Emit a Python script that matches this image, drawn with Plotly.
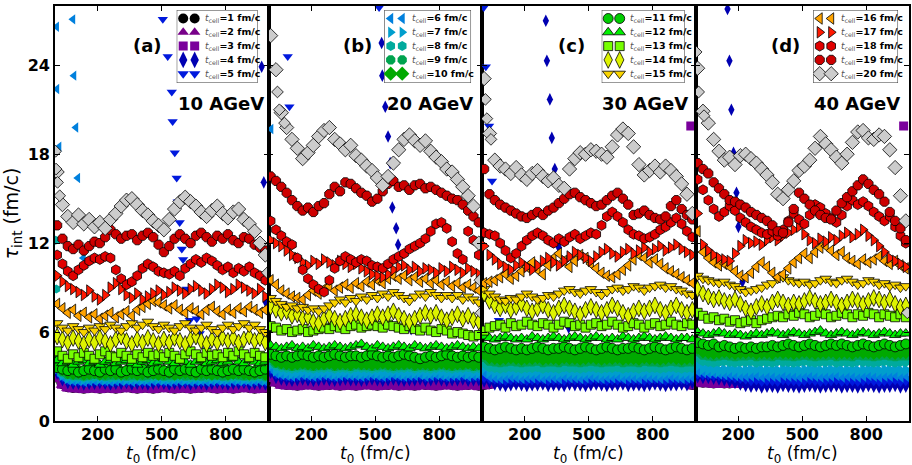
import plotly.graph_objects as go
from plotly.subplots import make_subplots

# sampling times t0 (fm/c) shared by every series
T0 = list(range(10, 1000, 25))

# ---------------- 10 AGeV ----------------
A1 = [3.0, 2.55, 2.35, 2.3, 2.3, 2.25, 2.3, 2.3, 2.25, 2.3, 2.3, 2.25, 2.3, 2.35, 2.3, 2.25, 2.3, 2.3, 2.25, 2.3,
      2.35, 2.3, 2.25, 2.3, 2.3, 2.25, 2.3, 2.3, 2.35, 2.3, 2.25, 2.3, 2.3, 2.25, 2.3, 2.35, 2.3, 2.25, 2.3, 2.3]
A2 = [2.9, 2.45, 2.25, 2.2, 2.2, 2.15, 2.2, 2.2, 2.15, 2.2, 2.2, 2.15, 2.2, 2.25, 2.2, 2.15, 2.2, 2.2, 2.15, 2.2,
      2.25, 2.2, 2.15, 2.2, 2.2, 2.15, 2.2, 2.2, 2.25, 2.2, 2.15, 2.2, 2.2, 2.15, 2.2, 2.25, 2.2, 2.15, 2.2, 2.15]
A3 = [3.0, 2.55, 2.35, 2.3, 2.3, 2.25, 2.3, 2.3, 2.25, 2.3, 2.3, 2.25, 2.3, 2.35, 2.3, 2.25, 2.3, 2.3, 2.25, 2.3,
      2.35, 2.3, 2.25, 2.3, 2.3, 2.25, 2.3, 2.3, 2.35, 2.3, 2.25, 2.3, 2.3, 2.25, 2.3, 2.35, 2.3, 2.25, 2.3, 2.3]
A4 = [3.4, 2.95, 2.75, 2.7, 2.7, 2.65, 2.7, 2.7, 2.75, 2.7, 2.65, 2.7, 2.7, 2.75, 2.65, 2.7, 2.7, 2.65, 2.7, 2.75,
      2.7, 2.65, 2.7, 2.7, 2.75, 2.65, 2.7, 2.7, 2.65, 2.7, 2.75, 2.7, 2.65, 2.7, 2.7, 2.75, 2.65, 2.7, 2.7, 2.65]
A5 = [3.45, 3.0, 2.8, 2.75, 2.75, 2.7, 2.75, 2.8, 2.75, 2.7, 2.75, 2.75, 2.8, 2.7, 2.75, 2.75, 2.7, 2.75, 2.8, 2.75,
      2.7, 2.75, 2.75, 2.8, 2.7, 2.75, 2.75, 2.7, 2.8, 2.75, 2.75, 2.7, 2.75, 2.8, 2.75, 2.7, 2.75, 2.75, 2.8, 2.7]
A6 = [3.5, 3.05, 2.85, 2.8, 2.8, 2.75, 2.8, 2.8, 2.85, 2.8, 2.75, 2.8, 2.8, 2.85, 2.75, 2.8, 2.8, 2.75, 2.8, 2.85,
      2.8, 2.75, 2.8, 2.8, 2.85, 2.75, 2.8, 2.8, 2.75, 2.8, 2.85, 2.8, 2.75, 2.8, 2.8, 2.85, 2.75, 2.8, 2.8, 2.75]
A7 = [3.6, 3.15, 2.95, 2.9, 2.9, 2.85, 2.9, 2.95, 2.9, 2.85, 2.9, 2.9, 2.95, 2.85, 2.9, 2.9, 2.85, 2.9, 2.95, 2.9,
      2.85, 2.9, 2.9, 2.95, 2.85, 2.9, 2.9, 2.85, 2.95, 2.9, 2.9, 2.85, 2.9, 2.95, 2.9, 2.85, 2.9, 2.9, 2.95, 2.85]
A8 = [3.75, 3.3, 3.1, 3.05, 3.05, 3.0, 3.05, 3.05, 3.1, 3.05, 3.0, 3.05, 3.05, 3.1, 3.0, 3.05, 3.05, 3.0, 3.05, 3.1,
      3.05, 3.0, 3.05, 3.05, 3.1, 3.0, 3.05, 3.05, 3.0, 3.05, 3.1, 3.05, 3.0, 3.05, 3.05, 3.1, 3.0, 3.05, 3.05, 3.0]
A9 = [3.85, 3.4, 3.2, 3.15, 3.15, 3.1, 3.15, 3.2, 3.15, 3.1, 3.15, 3.15, 3.2, 3.1, 3.15, 3.15, 3.1, 3.15, 3.2, 3.15,
      3.1, 3.15, 3.15, 3.2, 3.1, 3.15, 3.15, 3.1, 3.2, 3.15, 3.15, 3.1, 3.15, 3.2, 3.15, 3.1, 3.15, 3.15, 3.2, 3.1]
A10 = [4.0, 3.55, 3.35, 3.3, 3.35, 3.25, 3.3, 3.35, 3.25, 3.3, 3.35, 3.3, 3.25, 3.3, 3.35, 3.25, 3.3, 3.35, 3.3, 3.25,
       3.3, 3.35, 3.25, 3.3, 3.35, 3.3, 3.25, 3.35, 3.3, 3.25, 3.3, 3.35, 3.25, 3.3, 3.35, 3.3, 3.25, 3.3, 3.35, 3.25]
A11 = [3.6, 3.5, 3.4, 3.5, 3.3, 3.4, 3.5, 3.4, 3.3, 3.5, 3.4, 3.5, 3.3, 3.4, 3.5, 3.4, 3.5, 3.3, 3.4, 3.5,
       3.4, 3.3, 3.5, 3.4, 3.5, 3.4, 3.3, 3.5, 3.4, 3.5, 3.4, 3.3, 3.4, 3.5, 3.4, 3.5, 3.4, 3.3, 3.4, 3.5]
A12 = [4.1, 3.9, 4.0, 3.8, 4.0, 4.1, 3.9, 4.0, 3.8, 4.0, 4.1, 3.9, 4.0, 4.1, 3.9, 3.8, 4.0, 4.1, 3.9, 4.0,
       4.2, 4.0, 3.9, 4.1, 4.0, 3.8, 4.0, 4.1, 3.9, 4.0, 4.1, 3.9, 4.0, 4.2, 4.0, 3.9, 4.1, 4.0, 3.9, 4.0]
A13 = [4.7, 4.4, 4.2, 4.5, 4.3, 4.6, 4.4, 4.2, 4.5, 4.7, 4.4, 4.3, 4.6, 4.4, 4.2, 4.5, 4.3, 4.6, 4.4, 4.5,
       4.3, 4.6, 4.4, 4.2, 4.5, 4.7, 4.5, 4.3, 4.6, 4.4, 4.5, 4.3, 4.6, 4.4, 4.7, 4.5, 4.3, 4.6, 4.4, 4.3]
A14 = [5.7, 5.5, 5.3, 5.6, 5.4, 5.2, 5.5, 5.3, 5.6, 5.4, 5.2, 5.5, 5.7, 5.4, 5.2, 5.5, 5.3, 5.6, 5.4, 5.2,
       5.5, 5.3, 5.6, 5.4, 5.2, 5.5, 5.7, 5.4, 5.2, 5.5, 5.3, 5.6, 5.4, 5.6, 5.3, 5.5, 5.7, 5.4, 5.6, 5.3]
A15 = [6.6, 6.3, 6.1, 6.4, 6.2, 6.0, 6.3, 6.1, 6.4, 6.2, 6.5, 6.3, 6.1, 6.4, 6.6, 6.3, 6.5, 6.7, 6.4, 6.2,
       6.5, 6.3, 6.1, 6.4, 6.6, 6.3, 6.1, 6.3, 6.5, 6.2, 6.0, 6.3, 6.5, 6.2, 6.4, 6.6, 6.3, 6.5, 6.2, 6.0]
A16 = [7.9, 7.6, 7.3, 7.5, 7.1, 7.3, 7.0, 7.2, 6.9, 7.1, 7.3, 7.0, 7.2, 7.4, 7.1, 7.5, 7.7, 7.9, 8.1, 8.0,
       7.8, 7.6, 7.8, 7.5, 7.3, 7.6, 7.4, 7.2, 7.5, 7.7, 7.4, 7.2, 7.5, 7.3, 7.6, 7.4, 7.7, 7.5, 7.3, 7.5]
A17 = [9.8, 9.4, 9.1, 8.9, 8.7, 8.5, 8.8, 8.4, 8.2, 8.5, 9.0, 9.3, 8.9, 8.5, 8.3, 8.6, 8.2, 8.4, 8.6, 8.8,
       8.5, 8.7, 9.0, 8.8, 8.6, 8.9, 9.1, 8.8, 8.6, 8.9, 9.2, 9.0, 8.7, 8.9, 9.2, 9.0, 8.8, 8.6, 8.9, 8.4]
A18 = [11.2, 10.6, 10.1, 9.8, 10.2, 10.5, 10.8, 11.0, 10.9, 11.1, 11.0, 10.2, 9.6, 9.2, 9.4, 9.8, 10.3, 10.6, 10.4, 10.1,
       10.0, 9.9, 10.1, 9.8, 10.3, 10.6, 10.9, 10.7, 11.0, 10.8, 10.5, 10.2, 10.4, 10.0, 10.3, 10.1, 10.4, 10.0, 9.8, 9.5]
A19 = [13.2, 12.3, 11.8, 11.6, 11.9, 11.5, 11.8, 12.1, 12.0, 12.4, 12.9, 12.6, 12.3, 12.5, 12.6, 12.2, 12.5, 12.7, 12.4, 11.9,
       11.4, 11.8, 12.3, 12.6, 12.3, 12.0, 12.5, 12.7, 12.4, 12.1, 12.5, 12.3, 12.6, 12.2, 12.0, 12.4, 12.3, 11.9, 11.7, 11.5]
A20 = [16.8, 14.6, 13.8, 13.4, 13.9, 13.3, 13.6, 13.1, 13.4, 13.0, 13.6, 14.0, 14.5, 14.9, 15.0, 14.6, 14.2, 13.9, 13.5, 13.2,
       12.9, 13.6, 14.3, 14.8, 15.1, 14.8, 14.5, 14.1, 13.8, 14.2, 14.5, 14.0, 13.7, 14.1, 14.3, 13.6, 13.3, 12.8, 12.0, 11.2]
# isolated large-tau points (t0, tau)
A4_X, A4_Y = [968, 978, 988], [23.9, 16.1, 8.0]
A5_X = [505, 528, 547, 551, 561, 570, 575, 584, 594, 600, 617, 631, 664, 678, 710]
A5_Y = [27.1, 24.6, 22.2, 20.2, 18.1, 16.4, 14.8, 13.4, 11.6, 10.9, 8.9, 6.8, 6.9, 5.9, 4.8]
A6_X = [8, 9, 19, 84, 89, 98, 107, 131, 133]
A6_Y = [26.6, 22.4, 18.5, 27.1, 23.3, 19.8, 16.4, 13.4, 11.0]
A8_X, A8_Y = [3, 6], [12.2, 8.9]
A20_X, A20_Y = [3, 5, 12, 22, 994], [18.2, 17.0, 16.1, 15.2, 10.0]

# ---------------- 20 AGeV ----------------
B1 = [3.0, 2.7, 2.55, 2.5, 2.5, 2.45, 2.5, 2.55, 2.5, 2.45, 2.5, 2.5, 2.55, 2.45, 2.5, 2.5, 2.45, 2.5, 2.55, 2.5,
      2.45, 2.5, 2.5, 2.55, 2.45, 2.5, 2.5, 2.45, 2.55, 2.5, 2.5, 2.45, 2.5, 2.55, 2.5, 2.45, 2.5, 2.5, 2.55, 2.45]
B2 = [2.85, 2.55, 2.4, 2.35, 2.35, 2.3, 2.35, 2.4, 2.35, 2.3, 2.35, 2.35, 2.4, 2.3, 2.35, 2.35, 2.3, 2.35, 2.4, 2.35,
      2.3, 2.35, 2.35, 2.4, 2.3, 2.35, 2.35, 2.3, 2.4, 2.35, 2.35, 2.3, 2.35, 2.4, 2.35, 2.3, 2.35, 2.35, 2.4, 2.3]
B3 = [3.0, 2.7, 2.55, 2.5, 2.5, 2.45, 2.5, 2.55, 2.5, 2.45, 2.5, 2.5, 2.55, 2.45, 2.5, 2.5, 2.45, 2.5, 2.55, 2.5,
      2.45, 2.5, 2.5, 2.55, 2.45, 2.5, 2.5, 2.45, 2.55, 2.5, 2.5, 2.45, 2.5, 2.55, 2.5, 2.45, 2.5, 2.5, 2.55, 2.45]
B4 = [3.45, 3.1, 3.0, 2.95, 2.9, 2.95, 3.0, 2.95, 2.9, 2.95, 3.0, 2.95, 2.9, 2.95, 3.0, 2.95, 2.95, 2.9, 2.95, 3.0,
      2.95, 2.9, 2.95, 3.0, 2.95, 2.9, 2.95, 2.95, 3.0, 2.9, 2.95, 3.0, 2.95, 2.9, 2.95, 2.95, 3.0, 2.9, 2.95, 2.95]
B5 = [3.55, 3.2, 3.1, 3.05, 3.0, 3.05, 3.1, 3.05, 3.0, 3.05, 3.1, 3.05, 3.0, 3.05, 3.1, 3.05, 3.05, 3.0, 3.05, 3.1,
      3.05, 3.0, 3.05, 3.1, 3.05, 3.0, 3.05, 3.05, 3.1, 3.0, 3.05, 3.1, 3.05, 3.0, 3.05, 3.05, 3.1, 3.0, 3.05, 3.05]
B6 = [3.65, 3.3, 3.2, 3.15, 3.1, 3.15, 3.2, 3.15, 3.1, 3.15, 3.2, 3.15, 3.1, 3.15, 3.2, 3.15, 3.15, 3.1, 3.15, 3.2,
      3.15, 3.1, 3.15, 3.2, 3.15, 3.1, 3.15, 3.15, 3.2, 3.1, 3.15, 3.2, 3.15, 3.1, 3.15, 3.15, 3.2, 3.1, 3.15, 3.15]
B7 = [3.8, 3.45, 3.35, 3.3, 3.25, 3.3, 3.35, 3.3, 3.25, 3.3, 3.35, 3.3, 3.25, 3.3, 3.35, 3.3, 3.3, 3.25, 3.3, 3.35,
      3.3, 3.25, 3.3, 3.35, 3.3, 3.25, 3.3, 3.3, 3.35, 3.25, 3.3, 3.35, 3.3, 3.25, 3.3, 3.3, 3.35, 3.25, 3.3, 3.3]
B8 = [4.15, 3.8, 3.7, 3.65, 3.6, 3.65, 3.7, 3.65, 3.6, 3.65, 3.65, 3.7, 3.6, 3.65, 3.65, 3.6, 3.7, 3.65, 3.65, 3.6,
      3.65, 3.7, 3.65, 3.6, 3.65, 3.65, 3.7, 3.6, 3.65, 3.65, 3.6, 3.65, 3.7, 3.65, 3.6, 3.65, 3.65, 3.7, 3.6, 3.65]
B9 = [4.3, 3.95, 3.85, 3.8, 3.75, 3.8, 3.85, 3.8, 3.75, 3.8, 3.8, 3.85, 3.75, 3.8, 3.8, 3.75, 3.85, 3.8, 3.8, 3.75,
      3.8, 3.85, 3.8, 3.75, 3.8, 3.8, 3.85, 3.75, 3.8, 3.8, 3.75, 3.8, 3.85, 3.8, 3.75, 3.8, 3.8, 3.85, 3.75, 3.8]
B10 = [4.45, 4.1, 4.0, 3.95, 3.9, 3.95, 4.0, 3.95, 3.9, 3.95, 3.95, 4.0, 3.9, 3.95, 3.95, 3.9, 4.0, 3.95, 3.95, 3.9,
       3.95, 4.0, 3.95, 3.9, 3.95, 3.95, 4.0, 3.9, 3.95, 3.95, 3.9, 3.95, 4.0, 3.95, 3.9, 3.95, 3.95, 4.0, 3.9, 3.95]
B11 = [4.5, 4.4, 4.3, 4.4, 4.3, 4.4, 4.5, 4.4, 4.3, 4.4, 4.3, 4.4, 4.5, 4.4, 4.3, 4.4, 4.4, 4.3, 4.4, 4.5,
       4.4, 4.3, 4.4, 4.3, 4.4, 4.5, 4.4, 4.3, 4.2, 4.3, 4.4, 4.3, 4.4, 4.5, 4.4, 4.3, 4.4, 4.3, 4.4, 4.3]
B12 = [5.1, 5.0, 4.9, 5.0, 5.1, 4.9, 5.0, 4.9, 5.1, 5.0, 4.9, 5.0, 5.1, 5.0, 4.9, 5.0, 5.1, 5.2, 5.0, 4.9,
       5.1, 5.0, 4.9, 5.0, 5.1, 5.0, 4.9, 5.1, 5.0, 4.9, 5.0, 5.1, 5.0, 4.9, 5.0, 5.1, 5.0, 4.9, 5.0, 4.9]
B13 = [6.4, 6.3, 6.1, 6.2, 6.0, 6.1, 6.2, 6.0, 6.1, 6.2, 6.3, 6.2, 6.4, 6.3, 6.2, 6.4, 6.5, 6.3, 6.4, 6.5,
       6.4, 6.3, 6.5, 6.4, 6.3, 6.2, 6.4, 6.2, 6.1, 6.3, 6.1, 6.0, 6.2, 6.1, 5.9, 6.0, 5.9, 5.8, 5.7, 5.8]
B14 = [7.7, 7.5, 7.3, 7.4, 7.1, 7.2, 6.9, 7.0, 6.7, 6.6, 6.9, 7.1, 6.9, 6.7, 6.9, 7.1, 7.2, 7.0, 6.8, 7.0,
       7.2, 7.0, 7.2, 7.4, 7.1, 6.9, 6.7, 6.9, 7.1, 7.3, 7.1, 7.3, 7.0, 6.8, 7.0, 7.2, 6.9, 7.1, 6.8, 6.7]
B15 = [8.3, 8.1, 7.9, 7.7, 7.8, 7.6, 7.7, 7.5, 7.6, 7.4, 7.6, 7.8, 8.0, 8.2, 8.0, 8.3, 8.1, 8.4, 8.2, 8.5,
       8.3, 8.6, 8.4, 8.7, 8.5, 8.3, 8.1, 8.4, 8.6, 8.4, 8.7, 8.5, 8.3, 8.5, 8.3, 8.5, 8.2, 8.4, 8.2, 8.0]
B16 = [9.5, 9.2, 8.8, 8.6, 8.4, 8.3, 8.2, 8.5, 8.8, 8.6, 8.9, 9.1, 8.8, 9.0, 9.2, 9.0, 9.3, 9.1, 9.4, 9.2,
       9.5, 9.3, 9.6, 9.8, 9.6, 9.8, 9.5, 9.7, 9.4, 9.6, 9.3, 9.5, 9.2, 9.4, 9.1, 9.3, 9.0, 9.2, 9.0, 8.8]
B17 = [12.2, 12.0, 11.8, 11.5, 11.2, 11.0, 10.7, 10.5, 10.8, 10.6, 10.9, 10.7, 10.5, 10.8, 10.6, 10.4, 10.6, 10.3, 10.1, 9.9,
       9.8, 9.7, 9.9, 10.2, 10.4, 10.5, 10.2, 10.4, 10.1, 10.3, 10.2, 10.0, 10.3, 10.1, 10.4, 10.2, 10.0, 10.3, 10.1, 9.9]
B18 = [13.5, 12.9, 12.5, 12.1, 11.9, 11.0, 10.2, 9.6, 9.2, 8.9, 8.7, 9.5, 10.3, 10.8, 11.1, 10.9, 10.7, 10.9, 10.8, 10.5,
       10.4, 10.3, 10.6, 10.9, 11.1, 11.3, 11.6, 11.8, 12.0, 12.3, 12.8, 13.3, 13.4, 13.0, 12.1, 11.3, 10.9, 12.8, 12.2, 11.2]
B19 = [16.5, 16.2, 15.8, 15.4, 14.9, 14.5, 14.2, 14.4, 14.1, 14.5, 14.7, 15.3, 15.8, 15.5, 16.1, 16.0, 15.7, 15.4, 15.2, 14.8,
       15.0, 15.5, 16.0, 16.2, 15.8, 15.9, 15.6, 15.9, 16.0, 15.7, 15.8, 15.6, 15.4, 15.2, 15.0, 14.9, 14.6, 14.2, 13.8, 13.4]
B20 = [26.0, 23.7, 20.8, 19.8, 19.0, 18.4, 17.7, 18.1, 18.6, 19.2, 19.6, 19.8, 19.0, 18.7, 18.3, 18.6, 17.9, 17.6, 17.2, 16.9,
       16.4, 15.9, 16.5, 17.4, 18.3, 19.0, 19.3, 18.9, 18.6, 18.9, 18.2, 17.8, 17.5, 17.0, 16.8, 16.3, 15.8, 15.2, 14.5, 12.0]
B4_X = [530, 533, 547, 560, 570, 580, 598, 607, 668]
B4_Y = [25.5, 23.3, 21.2, 19.2, 17.4, 14.4, 13.0, 11.9, 6.2]
B5_X, B5_Y = [90, 98, 160, 518], [24.6, 21.2, 6.8, 27.9]
B6_X, B6_Y = [12], [19.7]
B20_X, B20_Y = [42, 51, 75, 990, 995], [22.2, 21.0, 20.1, 9.5, 7.3]

# ---------------- 30 AGeV ----------------
C1 = [2.5, 2.55, 2.7, 2.7, 2.65, 2.7, 2.75, 2.7, 2.7, 2.65, 2.7, 2.75, 2.7, 2.7, 2.65, 2.7, 2.75, 2.7, 2.7, 2.65,
      2.7, 2.75, 2.7, 2.7, 2.65, 2.7, 2.75, 2.7, 2.7, 2.65, 2.7, 2.75, 2.7, 2.7, 2.65, 2.7, 2.75, 2.7, 2.65, 2.5]
C2 = [2.45, 2.5, 2.65, 2.7, 2.7, 2.65, 2.7, 2.75, 2.7, 2.7, 2.65, 2.7, 2.75, 2.7, 2.7, 2.65, 2.7, 2.75, 2.7, 2.7,
      2.65, 2.7, 2.75, 2.7, 2.7, 2.65, 2.7, 2.75, 2.7, 2.7, 2.65, 2.7, 2.75, 2.7, 2.7, 2.65, 2.7, 2.7, 2.6, 2.45]
C3 = [2.5, 2.55, 2.7, 2.7, 2.65, 2.7, 2.75, 2.7, 2.7, 2.65, 2.7, 2.75, 2.7, 2.7, 2.65, 2.7, 2.75, 2.7, 2.7, 2.65,
      2.7, 2.75, 2.7, 2.7, 2.65, 2.7, 2.75, 2.7, 2.7, 2.65, 2.7, 2.75, 2.7, 2.7, 2.65, 2.7, 2.75, 2.7, 2.65, 2.5]
C4 = [2.85, 2.8, 2.65, 2.6, 2.55, 2.6, 2.65, 2.6, 2.55, 2.6, 2.6, 2.65, 2.55, 2.6, 2.6, 2.55, 2.65, 2.6, 2.6, 2.55,
      2.6, 2.65, 2.6, 2.55, 2.6, 2.6, 2.65, 2.55, 2.6, 2.6, 2.55, 2.6, 2.65, 2.6, 2.55, 2.6, 2.6, 2.65, 2.6, 2.75]
C5 = [2.95, 2.9, 2.85, 2.8, 2.75, 2.8, 2.85, 2.8, 2.75, 2.8, 2.8, 2.85, 2.75, 2.8, 2.8, 2.75, 2.85, 2.8, 2.8, 2.75,
      2.8, 2.85, 2.8, 2.75, 2.8, 2.8, 2.85, 2.75, 2.8, 2.8, 2.75, 2.8, 2.85, 2.8, 2.75, 2.8, 2.8, 2.85, 2.8, 2.9]
C6 = [3.3, 3.05, 3.0, 2.95, 3.0, 3.05, 3.0, 2.95, 3.0, 3.0, 3.05, 2.95, 3.0, 3.0, 2.95, 3.05, 3.0, 3.0, 2.95, 3.0,
      3.05, 3.0, 2.95, 3.0, 3.0, 3.05, 2.95, 3.0, 3.0, 2.95, 3.05, 3.0, 3.0, 2.95, 3.0, 3.05, 3.0, 2.95, 3.0, 3.0]
C7 = [3.6, 3.35, 3.3, 3.25, 3.3, 3.35, 3.3, 3.25, 3.3, 3.3, 3.35, 3.25, 3.3, 3.3, 3.25, 3.35, 3.3, 3.3, 3.25, 3.3,
      3.35, 3.3, 3.25, 3.3, 3.3, 3.35, 3.25, 3.3, 3.3, 3.25, 3.35, 3.3, 3.3, 3.25, 3.3, 3.35, 3.3, 3.25, 3.3, 3.3]
C8 = [3.95, 3.7, 3.65, 3.6, 3.65, 3.7, 3.65, 3.6, 3.65, 3.65, 3.7, 3.6, 3.65, 3.65, 3.6, 3.7, 3.65, 3.65, 3.6, 3.65,
      3.7, 3.65, 3.6, 3.65, 3.65, 3.7, 3.6, 3.65, 3.65, 3.6, 3.7, 3.65, 3.65, 3.6, 3.65, 3.7, 3.65, 3.6, 3.65, 3.65]
C9 = [4.35, 4.1, 4.05, 4.0, 4.05, 4.1, 4.05, 4.0, 4.05, 4.05, 4.1, 4.0, 4.05, 4.05, 4.0, 4.1, 4.05, 4.05, 4.0, 4.05,
      4.1, 4.05, 4.0, 4.05, 4.05, 4.1, 4.0, 4.05, 4.05, 4.0, 4.1, 4.05, 4.05, 4.0, 4.05, 4.1, 4.05, 4.0, 4.05, 4.05]
C10 = [4.6, 4.35, 4.3, 4.25, 4.3, 4.35, 4.3, 4.25, 4.3, 4.3, 4.35, 4.25, 4.3, 4.3, 4.25, 4.35, 4.3, 4.3, 4.25, 4.3,
       4.35, 4.3, 4.25, 4.3, 4.3, 4.35, 4.25, 4.3, 4.3, 4.25, 4.35, 4.3, 4.3, 4.25, 4.3, 4.35, 4.3, 4.25, 4.3, 4.3]
C11 = [5.0, 4.9, 4.8, 4.9, 5.0, 4.9, 4.8, 4.9, 4.8, 4.9, 5.0, 4.9, 4.8, 4.9, 4.9, 5.0, 4.9, 4.8, 4.9, 5.0,
       4.9, 4.8, 4.9, 5.0, 4.9, 4.8, 4.9, 4.9, 5.0, 4.9, 4.8, 4.9, 5.0, 4.9, 4.8, 4.9, 5.0, 4.9, 4.8, 4.9]
C12 = [5.7, 5.6, 5.5, 5.6, 5.7, 5.6, 5.5, 5.6, 5.5, 5.7, 5.6, 5.5, 5.6, 5.7, 5.6, 5.5, 5.6, 5.7, 5.6, 5.5,
       5.6, 5.7, 5.6, 5.5, 5.6, 5.5, 5.7, 5.6, 5.5, 5.6, 5.7, 5.6, 5.5, 5.6, 5.7, 5.6, 5.5, 5.6, 5.6, 5.5]
C13 = [6.1, 6.3, 6.4, 6.5, 6.3, 6.6, 6.4, 6.5, 6.7, 6.5, 6.4, 6.6, 6.5, 6.3, 6.5, 6.7, 6.6, 6.4, 6.5, 6.3,
       6.5, 6.6, 6.4, 6.5, 6.7, 6.5, 6.3, 6.4, 6.6, 6.5, 6.3, 6.5, 6.6, 6.4, 6.5, 6.7, 6.5, 6.4, 6.6, 6.5]
C14 = [8.6, 8.1, 7.8, 7.6, 7.8, 7.5, 7.7, 7.9, 7.6, 7.4, 7.6, 7.8, 7.5, 7.3, 7.6, 7.8, 7.6, 7.4, 7.2, 7.5,
       7.7, 7.5, 7.3, 7.5, 7.8, 7.6, 7.3, 7.1, 7.4, 7.6, 7.4, 7.6, 7.8, 7.5, 7.3, 7.6, 7.8, 7.5, 7.3, 7.5]
C15 = [8.9, 8.6, 8.4, 8.2, 8.1, 8.3, 8.2, 8.4, 8.6, 8.4, 8.2, 8.3, 8.5, 8.4, 8.6, 8.8, 8.9, 8.7, 8.6, 8.8,
       8.9, 8.7, 8.5, 8.7, 8.9, 9.0, 8.8, 8.9, 9.1, 9.0, 8.8, 9.0, 9.1, 9.2, 9.0, 9.1, 8.9, 8.8, 8.6, 8.5]
C16 = [9.3, 9.4, 9.5, 9.7, 9.9, 9.6, 9.8, 10.1, 10.4, 10.7, 10.2, 9.9, 10.5, 11.0, 11.3, 10.8, 10.4, 10.8, 11.2, 11.0,
       10.6, 10.3, 10.0, 9.8, 9.7, 9.9, 10.2, 10.5, 10.9, 11.2, 11.0, 10.7, 10.9, 10.6, 10.3, 10.1, 9.9, 9.7, 9.5, 9.3]
C17 = [11.8, 11.2, 10.9, 10.6, 10.4, 10.2, 10.5, 10.7, 10.4, 10.2, 10.5, 10.8, 11.0, 10.7, 10.5, 10.8, 11.1, 11.4, 11.2, 11.0,
       10.8, 11.1, 11.4, 11.6, 11.3, 11.1, 11.4, 11.6, 11.3, 11.5, 11.7, 11.4, 11.6, 11.8, 11.5, 11.7, 11.9, 11.6, 11.4, 11.2]
C18 = [12.7, 12.6, 12.5, 12.0, 11.5, 11.0, 11.3, 11.8, 12.2, 12.5, 12.7, 12.5, 12.2, 12.0, 12.3, 12.1, 12.4, 12.6, 12.3, 12.5,
       12.7, 12.6, 13.2, 13.8, 14.1, 13.8, 13.4, 12.9, 12.6, 12.5, 12.3, 12.4, 12.6, 12.9, 13.1, 13.4, 13.7, 13.3, 12.8, 12.4]
C19 = [17.0, 15.3, 14.9, 14.6, 14.4, 14.2, 14.0, 13.8, 13.7, 13.9, 14.1, 13.9, 14.2, 14.4, 14.7, 15.0, 15.3, 15.4, 15.1, 14.9,
       14.7, 14.5, 14.6, 14.9, 15.2, 15.4, 15.0, 14.6, 13.9, 14.0, 14.2, 13.9, 13.7, 13.6, 13.8, 14.5, 14.9, 14.3, 13.9, 13.6]
C20 = [23.1, 19.4, 17.6, 17.2, 17.0, 16.7, 17.1, 16.6, 16.3, 16.7, 16.9, 16.5, 16.2, 16.4, 15.9, 15.7, 17.0, 17.7, 18.1, 18.0,
       18.3, 18.2, 18.0, 17.8, 18.5, 19.3, 19.7, 19.4, 18.5, 17.3, 16.6, 16.9, 17.2, 16.8, 17.2, 16.9, 16.5, 16.0, 15.3, 14.0]
C3_X, C3_Y = [978], [19.9]
C4_X = [299, 304, 318, 327, 341, 360, 406]
C4_Y = [27.0, 24.3, 21.7, 19.1, 17.0, 11.7, 6.3]
C5_X, C5_Y = [8, 18, 33, 47, 79], [27.9, 23.9, 19.9, 16.2, 6.8]
C20_X, C20_Y = [16, 23, 42], [21.7, 20.4, 19.0]

# ---------------- 40 AGeV ----------------
D1 = [2.7, 2.65, 2.65, 2.6, 2.65, 2.6, 2.6, 2.65, 2.6, 2.65, 2.65, 2.6, 2.65, 2.65, 2.6, 2.65, 2.65, 2.6, 2.65, 2.65,
      2.6, 2.65, 2.65, 2.6, 2.65, 2.65, 2.6, 2.65, 2.65, 2.6, 2.65, 2.65, 2.6, 2.65, 2.65, 2.6, 2.65, 2.65, 2.6, 2.65]
D2 = [2.65, 2.6, 2.6, 2.55, 2.6, 2.55, 2.55, 2.6, 2.55, 2.6, 2.6, 2.55, 2.6, 2.6, 2.55, 2.6, 2.6, 2.55, 2.6, 2.6,
      2.55, 2.6, 2.6, 2.55, 2.6, 2.6, 2.55, 2.6, 2.6, 2.55, 2.6, 2.6, 2.55, 2.6, 2.6, 2.55, 2.6, 2.6, 2.55, 2.6]
D3 = [2.7, 2.65, 2.65, 2.6, 2.65, 2.6, 2.6, 2.65, 2.6, 2.65, 2.65, 2.6, 2.65, 2.65, 2.6, 2.65, 2.65, 2.6, 2.65, 2.65,
      2.6, 2.65, 2.65, 2.6, 2.65, 2.65, 2.6, 2.65, 2.65, 2.6, 2.65, 2.65, 2.6, 2.65, 2.65, 2.6, 2.65, 2.65, 2.6, 2.65]
D4 = [3.15, 3.1, 3.1, 3.05, 3.0, 2.95, 2.85, 2.75, 2.65, 2.55, 2.5, 2.55, 2.45, 2.5, 2.5, 2.45, 2.55, 2.5, 2.5, 2.45,
      2.5, 2.55, 2.5, 2.45, 2.5, 2.5, 2.55, 2.45, 2.5, 2.5, 2.45, 2.5, 2.55, 2.5, 2.45, 2.5, 2.5, 2.55, 2.45, 2.5]
D5 = [3.2, 3.15, 3.15, 3.1, 3.1, 3.05, 3.0, 2.95, 2.9, 2.85, 2.75, 2.8, 2.7, 2.75, 2.75, 2.7, 2.8, 2.75, 2.75, 2.7,
      2.75, 2.8, 2.75, 2.7, 2.75, 2.75, 2.8, 2.7, 2.75, 2.75, 2.7, 2.75, 2.8, 2.75, 2.7, 2.75, 2.75, 2.8, 2.7, 2.75]
D6 = [3.4, 3.35, 3.3, 3.3, 3.25, 3.2, 3.2, 3.15, 3.1, 3.1, 3.1, 3.15, 3.05, 3.1, 3.1, 3.05, 3.15, 3.1, 3.1, 3.05,
      3.1, 3.15, 3.1, 3.05, 3.1, 3.1, 3.15, 3.05, 3.1, 3.1, 3.05, 3.1, 3.15, 3.1, 3.05, 3.1, 3.1, 3.15, 3.05, 3.1]
D7 = [3.75, 3.55, 3.5, 3.45, 3.4, 3.45, 3.5, 3.45, 3.4, 3.45, 3.45, 3.5, 3.4, 3.45, 3.45, 3.4, 3.5, 3.45, 3.45, 3.4,
      3.45, 3.5, 3.45, 3.4, 3.45, 3.45, 3.5, 3.4, 3.45, 3.45, 3.4, 3.45, 3.5, 3.45, 3.4, 3.45, 3.45, 3.5, 3.4, 3.45]
D8 = [4.35, 4.1, 4.05, 4.0, 4.05, 4.1, 4.05, 4.0, 4.05, 4.05, 4.1, 4.0, 4.05, 4.05, 4.0, 4.1, 4.05, 4.05, 4.0, 4.05,
      4.1, 4.05, 4.0, 4.05, 4.05, 4.1, 4.0, 4.05, 4.05, 4.0, 4.1, 4.05, 4.05, 4.0, 4.05, 4.1, 4.05, 4.0, 4.05, 4.05]
D9 = [4.75, 4.5, 4.45, 4.4, 4.45, 4.5, 4.45, 4.4, 4.45, 4.45, 4.5, 4.4, 4.45, 4.45, 4.4, 4.5, 4.45, 4.45, 4.4, 4.45,
      4.5, 4.45, 4.4, 4.45, 4.45, 4.5, 4.4, 4.45, 4.45, 4.4, 4.5, 4.45, 4.45, 4.4, 4.45, 4.5, 4.45, 4.4, 4.45, 4.45]
D10 = [5.0, 4.75, 4.7, 4.65, 4.7, 4.75, 4.7, 4.65, 4.7, 4.7, 4.75, 4.65, 4.7, 4.7, 4.65, 4.75, 4.7, 4.7, 4.65, 4.7,
       4.75, 4.7, 4.65, 4.7, 4.7, 4.75, 4.65, 4.7, 4.7, 4.65, 4.75, 4.7, 4.7, 4.65, 4.7, 4.75, 4.7, 4.65, 4.7, 4.7]
D11 = [5.3, 5.2, 5.1, 5.2, 5.0, 5.1, 5.0, 4.9, 5.0, 4.9, 5.0, 4.9, 5.0, 5.0, 5.1, 5.0, 5.1, 5.2, 5.1, 5.0,
       5.1, 5.2, 5.1, 5.0, 5.1, 5.2, 5.1, 5.2, 5.1, 5.0, 5.1, 5.2, 5.1, 5.0, 5.1, 5.2, 5.1, 5.0, 5.1, 5.2]
D12 = [6.0, 5.9, 5.8, 5.9, 6.0, 5.9, 5.8, 5.9, 5.8, 5.7, 5.8, 5.9, 5.8, 5.9, 6.0, 5.9, 5.8, 5.9, 6.0, 5.9,
       5.8, 5.9, 6.0, 6.1, 5.9, 5.8, 5.9, 6.0, 5.9, 5.8, 5.9, 6.0, 5.9, 5.8, 5.9, 6.0, 5.9, 5.8, 5.9, 5.9]
D13 = [7.3, 7.1, 6.9, 7.0, 6.8, 6.9, 6.7, 6.8, 6.6, 6.7, 6.8, 6.6, 6.8, 6.9, 7.0, 7.1, 7.0, 7.2, 7.1, 7.3,
       7.2, 7.0, 7.1, 7.3, 7.2, 7.0, 7.1, 7.3, 7.2, 7.0, 7.2, 7.1, 7.3, 7.2, 7.0, 7.2, 7.1, 7.0, 7.2, 7.0]
D14 = [8.9, 8.6, 8.4, 8.2, 8.3, 8.1, 8.0, 8.2, 7.9, 7.6, 7.4, 7.7, 7.9, 7.7, 8.0, 8.2, 8.0, 7.8, 8.0, 7.9,
       8.1, 8.3, 8.1, 7.9, 8.0, 8.2, 8.0, 7.8, 8.0, 8.2, 8.1, 7.9, 8.1, 8.3, 8.2, 8.0, 8.2, 7.9, 7.7, 7.8]
D15 = [9.8, 9.6, 9.5, 9.4, 9.3, 9.4, 9.2, 9.1, 8.9, 8.7, 8.8, 8.9, 9.0, 9.2, 9.3, 9.6, 9.7, 9.5, 9.4, 9.3,
       9.4, 9.2, 9.3, 9.5, 9.6, 9.4, 9.3, 9.5, 9.6, 9.4, 9.2, 9.3, 9.5, 9.4, 9.2, 9.3, 9.1, 9.2, 9.0, 9.1]
D16 = [12.8, 11.4, 11.0, 10.7, 10.5, 10.6, 10.4, 10.1, 9.8, 9.7, 10.0, 10.4, 10.7, 10.4, 10.0, 9.7, 9.9, 10.3, 10.7, 11.0,
       11.3, 11.0, 11.4, 11.7, 11.8, 11.5, 11.2, 11.4, 11.0, 10.8, 10.6, 10.9, 10.7, 10.9, 11.1, 10.8, 10.6, 10.8, 10.5, 10.3]
D17 = [14.0, 11.9, 11.5, 11.2, 11.0, 10.9, 10.8, 11.3, 11.8, 12.2, 12.0, 12.1, 11.9, 12.2, 12.4, 12.2, 12.5, 12.7, 12.9, 13.1,
       12.6, 12.2, 12.0, 12.3, 12.1, 12.4, 12.2, 12.5, 12.7, 12.4, 12.6, 12.9, 12.5, 12.2, 11.8, 11.4, 11.0, 10.8, 10.6, 10.4]
D18 = [16.3, 15.6, 14.9, 14.3, 13.8, 14.1, 14.5, 14.2, 13.7, 13.4, 13.1, 12.9, 12.7, 12.6, 12.8, 12.5, 12.9, 13.5, 14.0, 13.6,
       13.3, 13.9, 14.6, 14.4, 14.0, 13.7, 13.4, 13.9, 14.5, 14.9, 14.6, 14.8, 14.5, 14.1, 13.8, 13.5, 13.8, 13.1, 12.5, 12.0]
D19 = [17.4, 17.0, 16.7, 16.1, 15.7, 15.3, 14.9, 14.8, 14.6, 14.4, 14.1, 13.9, 13.7, 13.5, 13.2, 12.8, 12.7, 13.4, 14.3, 15.4,
       15.0, 14.6, 14.2, 13.9, 13.7, 13.6, 14.2, 14.7, 15.1, 15.5, 15.9, 16.3, 16.0, 15.6, 15.3, 14.8, 14.1, 13.5, 13.0, 12.2]
D20 = [23.8, 20.9, 20.1, 19.0, 18.2, 17.6, 17.8, 17.3, 17.9, 18.0, 17.7, 17.4, 17.0, 16.6, 16.1, 15.3, 15.0, 15.6, 16.2, 16.9,
       17.2, 17.6, 18.4, 19.2, 18.7, 18.3, 17.8, 17.4, 18.0, 18.8, 19.5, 19.6, 19.1, 19.0, 19.3, 19.2, 18.3, 17.1, 15.2, 13.5]
D3_X, D3_Y = [975], [19.9]
D4_X = [150, 159, 168, 178, 192, 201, 220]
D4_Y = [27.8, 24.3, 21.0, 18.1, 15.4, 13.1, 9.4]
D20_X, D20_Y = [3, 15, 40, 992], [24.9, 22.2, 20.6, 7.3]

PANEL_TAGS = ["(a)", "(b)", "(c)", "(d)"]
ENERGIES = ["10 AGeV", "20 AGeV", "30 AGeV", "40 AGeV"]
X_TICKS = [200, 500, 800]
Y_TICKS = [0, 6, 12, 18, 24]

# nipy_spectral-like palette for t_cell = 1..20 fm/c
COLORS = ["#000000", "#780089", "#7a009b", "#0000b2", "#0019dd", "#0080dd", "#009ecd", "#00aa9d", "#00a34f", "#00a900",
          "#00cd00", "#00f000", "#76ff00", "#ddf300", "#fad400", "#ffa300", "#ff1800", "#e10000", "#cd0000", "#cccccc"]
SYMBOLS = ["circle", "triangle-up", "square", "diamond-tall", "triangle-down",
           "triangle-left", "triangle-right", "hexagon", "octagon", "diamond"] * 2
# dense low-t_cell band uses larger glyphs so the rows merge
SIZES = [12, 12, 11, 13, 12, 12, 12, 12, 12, 12,
         10, 10, 9, 12, 10, 10, 10, 10, 10, 11]
SPIKE_SIZE = 9
LEGEND_SIZES = [10, 10, 9, 12, 10, 10, 10, 10, 10, 11] * 2

panels = [
    ([A1, A2, A3, A4, A5, A6, A7, A8, A9, A10, A11, A12, A13, A14, A15, A16, A17, A18, A19, A20],
     {4: (A4_X, A4_Y), 5: (A5_X, A5_Y), 6: (A6_X, A6_Y), 8: (A8_X, A8_Y), 20: (A20_X, A20_Y)}),
    ([B1, B2, B3, B4, B5, B6, B7, B8, B9, B10, B11, B12, B13, B14, B15, B16, B17, B18, B19, B20],
     {4: (B4_X, B4_Y), 5: (B5_X, B5_Y), 6: (B6_X, B6_Y), 20: (B20_X, B20_Y)}),
    ([C1, C2, C3, C4, C5, C6, C7, C8, C9, C10, C11, C12, C13, C14, C15, C16, C17, C18, C19, C20],
     {3: (C3_X, C3_Y), 4: (C4_X, C4_Y), 5: (C5_X, C5_Y), 20: (C20_X, C20_Y)}),
    ([D1, D2, D3, D4, D5, D6, D7, D8, D9, D10, D11, D12, D13, D14, D15, D16, D17, D18, D19, D20],
     {3: (D3_X, D3_Y), 4: (D4_X, D4_Y), 20: (D20_X, D20_Y)}),
]

FONT = "DejaVu Sans"

# plot-area geometry in pixels (used to place the in-panel legend boxes)
W, H = 912, 465
ML, MR, MT, MB = 55, 1, 6, 44
PW, PH = W - ML - MR, H - MT - MB
PANEL_W = PW / 4
LEG_W = [81, 87, 83, 85]      # legend box widths (px)
LEG_GAP_R = 11                # gap between legend box and panel's right frame (px)
LEG_TOP, LEG_H, LEG_ROW = 10, 73, 13.8
XTITLE_Y_PX = 454             # vertical centre of the t0 axis titles (px from top)

fig = make_subplots(rows=1, cols=4, shared_yaxes=True, horizontal_spacing=0)

for p, (series, extra) in enumerate(panels):
    for i, tau in enumerate(series):
        n = i + 1
        assert len(tau) == len(T0), (p, n, len(tau))
        xs, ys = list(T0), list(tau)
        sizes = [SIZES[i]] * len(T0)
        if n in extra:
            xs += extra[n][0]
            ys += extra[n][1]
            sizes += [SPIKE_SIZE] * len(extra[n][0])
        fig.add_trace(go.Scatter(
            x=xs, y=ys, mode="markers", showlegend=False,
            name=f"t_cell={n} fm/c",
            marker=dict(symbol=SYMBOLS[i], color=COLORS[i], size=sizes, opacity=1,
                        line=dict(color="black", width=0.8 if n > 10 else 0)),
            hoverinfo="skip",
        ), row=1, col=p + 1)

axis_common = dict(showline=True, linecolor="black", linewidth=1.6, mirror="ticks",
                   ticks="inside", ticklen=5, tickwidth=1.2, tickcolor="black",
                   showgrid=False, zeroline=False,
                   tickfont=dict(family=FONT, size=16, color="black", weight="bold"))

for p in range(4):
    fig.update_xaxes(range=[0, 1000], tickvals=X_TICKS, ticklabelstandoff=-2,
                     row=1, col=p + 1, **axis_common)
    fig.update_yaxes(range=[0, 28], tickvals=Y_TICKS, row=1, col=p + 1, **axis_common)
fig.update_yaxes(title=dict(text="<i>τ</i><sub>int</sub> (fm/c)", font=dict(family=FONT, size=19, color="black"),
                            standoff=8), row=1, col=1)

# in-panel legends: one small hidden axis pair per panel, in pixel units
shapes, annotations, extra_axes = [], [], {}
for p in range(4):
    ax = 5 + p
    right_px = PANEL_W * (p + 1) - LEG_GAP_R
    left_px = right_px - LEG_W[p]
    x_dom = [left_px / PW, right_px / PW]
    y_dom = [1 - (LEG_TOP + LEG_H - MT) / PH, 1 - (LEG_TOP - MT) / PH]
    extra_axes[f"xaxis{ax}"] = dict(domain=x_dom, range=[0, LEG_W[p]], anchor=f"y{ax}", visible=False,
                                    fixedrange=True)
    extra_axes[f"yaxis{ax}"] = dict(domain=y_dom, range=[LEG_H, 0], anchor=f"x{ax}", visible=False,
                                    fixedrange=True)
    shapes.append(dict(type="rect", xref=f"x{ax}", yref=f"y{ax}", x0=0, x1=LEG_W[p], y0=0, y1=LEG_H,
                       fillcolor="white", line=dict(color="#333", width=1), layer="below"))
    for k in range(5):
        i = 5 * p + k
        row_y = 8.5 + LEG_ROW * k
        fig.add_trace(go.Scatter(
            x=[6.5, 18], y=[row_y, row_y], mode="markers", showlegend=False, hoverinfo="skip",
            marker=dict(symbol=SYMBOLS[i], color=COLORS[i], size=LEGEND_SIZES[i], opacity=1,
                        line=dict(color="black", width=0.8 if i >= 10 else 0)),
            xaxis=f"x{ax}", yaxis=f"y{ax}"))
        annotations.append(dict(
            text=f"<span style='color:#555;font-size:9px'><i>t</i><sub>cell</sub></span><b>={i + 1} fm/c</b>",
            x=26, y=row_y, xref=f"x{ax}", yref=f"y{ax}", xanchor="left", yanchor="middle",
            showarrow=False, font=dict(family=FONT, size=9.5, color="black")))

tag_x = [0.1086, 0.354, 0.605, 0.855]
energy_x = [0.2465, 0.4918, 0.743, 0.992]
for p in range(4):
    annotations.append(dict(text=f"<b>{PANEL_TAGS[p]}</b>", x=tag_x[p], y=0.906, xref="paper", yref="paper",
                            showarrow=False, xanchor="center", yanchor="middle",
                            font=dict(family=FONT, size=18, color="black")))
    annotations.append(dict(text=f"<b>{ENERGIES[p]}</b>", x=energy_x[p], y=0.766, xref="paper", yref="paper",
                            showarrow=False, xanchor="right", yanchor="middle",
                            font=dict(family=FONT, size=18, color="black")))
    # t0 axis title centred under each panel
    annotations.append(dict(text="<i>t</i><sub>0</sub> (fm/c)", x=(p + 0.5) / 4,
                            y=-(XTITLE_Y_PX - (H - MB)) / PH, xref="paper", yref="paper",
                            showarrow=False, xanchor="center", yanchor="middle",
                            font=dict(family=FONT, size=17, color="black")))

fig.update_layout(
    width=W, height=H,
    margin=dict(l=ML, r=MR, t=MT, b=MB),
    paper_bgcolor="white", plot_bgcolor="white",
    font=dict(family=FONT, color="black"),
    showlegend=False,
    shapes=shapes,
    annotations=annotations,
    **extra_axes,
)

fig.write_html("out.html")
